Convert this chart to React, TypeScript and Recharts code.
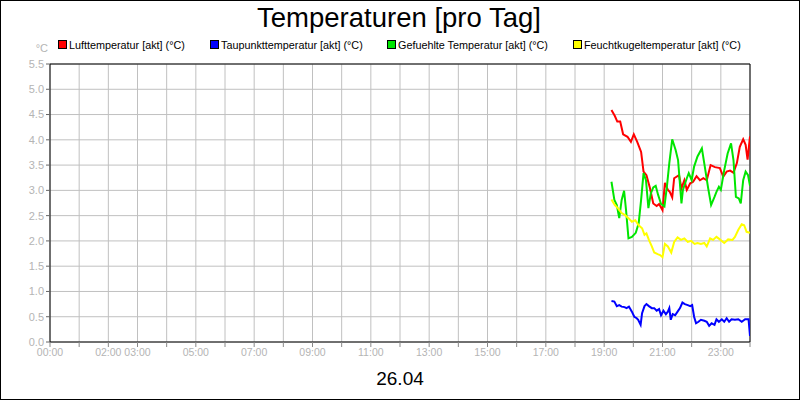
import { CartesianGrid, Line, LineChart, ReferenceLine, XAxis, YAxis } from "recharts";

// readings as [time, °C]
const lufttemperatur: [string, number][] = [
  ["19:15", 4.59], ["19:22", 4.47], ["19:27", 4.36], ["19:33", 4.36], ["19:39", 4.11],
  ["19:48", 4.06], ["19:55", 3.96], ["20:01", 4.11], ["20:08", 3.96], ["20:16", 3.76],
  ["20:21", 3.37], ["20:27", 3.3], ["20:34", 3.05], ["20:41", 2.74], ["20:48", 2.69],
  ["20:53", 2.73], ["21:00", 2.61], ["21:05", 3.15], ["21:11", 3.01], ["21:15", 2.97],
  ["21:20", 2.86], ["21:24", 3.24], ["21:34", 3.3], ["21:39", 3.04], ["21:45", 3.2],
  ["21:50", 3.01], ["21:57", 3.14], ["22:03", 3.17], ["22:10", 3.28], ["22:17", 3.2],
  ["22:24", 3.24], ["22:31", 3.2], ["22:39", 3.5], ["22:48", 3.46], ["22:58", 3.44],
  ["23:05", 3.27], ["23:12", 3.37], ["23:19", 3.39], ["23:26", 3.35], ["23:33", 3.54],
  ["23:39", 3.86], ["23:46", 4.01], ["23:51", 3.9], ["23:55", 3.61], ["24:00", 4.07],
];

const taupunkttemperatur: [string, number][] = [
  ["19:15", 0.81], ["19:21", 0.8], ["19:26", 0.71], ["19:31", 0.73], ["19:36", 0.7],
  ["19:42", 0.69], ["19:46", 0.67], ["19:51", 0.7], ["19:57", 0.6], ["20:02", 0.5],
  ["20:07", 0.47], ["20:10", 0.44], ["20:15", 0.34], ["20:18", 0.57], ["20:23", 0.71],
  ["20:27", 0.75], ["20:32", 0.71], ["20:38", 0.67], ["20:43", 0.67], ["20:48", 0.62],
  ["20:53", 0.65], ["20:57", 0.53], ["21:02", 0.62], ["21:07", 0.55], ["21:11", 0.6],
  ["21:14", 0.67], ["21:17", 0.44], ["21:21", 0.55], ["21:26", 0.53], ["21:31", 0.6],
  ["21:36", 0.67], ["21:41", 0.78], ["21:46", 0.75], ["21:52", 0.73], ["21:57", 0.71],
  ["22:01", 0.73], ["22:05", 0.5], ["22:09", 0.37], ["22:14", 0.4], ["22:19", 0.44],
  ["22:26", 0.42], ["22:31", 0.4], ["22:36", 0.32], ["22:41", 0.37], ["22:47", 0.34],
  ["22:51", 0.45], ["22:56", 0.4], ["23:02", 0.45], ["23:07", 0.4], ["23:12", 0.47],
  ["23:17", 0.4], ["23:22", 0.45], ["23:29", 0.44], ["23:36", 0.45], ["23:43", 0.4],
  ["23:50", 0.45], ["23:57", 0.45], ["24:00", 0.12],
];

const gefuehlteTemperatur: [string, number][] = [
  ["19:15", 3.17], ["19:21", 2.81], ["19:26", 2.71], ["19:31", 2.45], ["19:36", 2.81],
  ["19:41", 2.99], ["19:45", 2.61], ["19:50", 2.05], ["19:57", 2.08], ["20:05", 2.16],
  ["20:11", 2.35], ["20:16", 2.81], ["20:21", 3.34], ["20:26", 3.2], ["20:31", 2.65],
  ["20:36", 2.94], ["20:41", 3.06], ["20:46", 3.09], ["20:51", 2.91], ["20:57", 2.73],
  ["21:04", 2.68], ["21:09", 3.07], ["21:14", 3.54], ["21:20", 4.01], ["21:27", 3.8],
  ["21:32", 3.6], ["21:39", 2.74], ["21:42", 3.01], ["21:50", 3.24], ["21:54", 3.34],
  ["22:00", 3.2], ["22:05", 3.47], ["22:12", 3.67], ["22:21", 3.83], ["22:27", 3.47],
  ["22:34", 3.04], ["22:40", 2.71], ["22:47", 2.87], ["22:51", 2.97], ["22:56", 3.07],
  ["23:00", 3.01], ["23:07", 3.4], ["23:14", 3.73], ["23:21", 3.93], ["23:26", 3.6],
  ["23:31", 2.87], ["23:37", 2.84], ["23:41", 2.74], ["23:46", 3.2], ["23:51", 3.37],
  ["23:56", 3.3], ["24:00", 3.09],
];

const feuchtkugeltemperatur: [string, number][] = [
  ["19:15", 2.82], ["19:22", 2.71], ["19:29", 2.64], ["19:36", 2.55], ["19:43", 2.51],
  ["19:50", 2.45], ["19:57", 2.38], ["20:04", 2.41], ["20:11", 2.31], ["20:18", 2.25],
  ["20:23", 2.12], ["20:27", 2.15], ["20:32", 2.02], ["20:38", 1.89], ["20:43", 1.77],
  ["20:50", 1.74], ["20:55", 1.72], ["21:00", 1.68], ["21:05", 1.94], ["21:11", 1.89],
  ["21:18", 1.77], ["21:24", 1.98], ["21:31", 2.07], ["21:38", 2.02], ["21:45", 2.05],
  ["21:52", 1.98], ["21:59", 2.0], ["22:06", 1.94], ["22:12", 1.96], ["22:19", 1.94],
  ["22:26", 1.96], ["22:31", 1.89], ["22:38", 2.05], ["22:44", 2.02], ["22:51", 2.08],
  ["22:58", 2.03], ["23:07", 1.96], ["23:15", 2.03], ["23:24", 2.02], ["23:29", 2.08],
  ["23:36", 2.22], ["23:43", 2.33], ["23:48", 2.31], ["23:53", 2.18], ["24:00", 2.16],
];

const hourTicks = Array.from({ length: 25 }, (_, i) => i);
const labelledHours = [0, 2, 3, 5, 7, 9, 11, 13, 15, 17, 19, 21, 23];
const yTicks = [0, 0.5, 1, 1.5, 2, 2.5, 3, 3.5, 4, 4.5, 5, 5.5];

const series = [
  { name: "Lufttemperatur [akt] (°C)", color: "#ff0000", rows: lufttemperatur, legendX: 58 },
  { name: "Taupunkttemperatur [akt] (°C)", color: "#0000ff", rows: taupunkttemperatur, legendX: 210 },
  { name: "Gefuehlte Temperatur [akt] (°C)", color: "#00e600", rows: gefuehlteTemperatur, legendX: 387 },
  { name: "Feuchtkugeltemperatur [akt] (°C)", color: "#ffff00", rows: feuchtkugeltemperatur, legendX: 573 },
];

const FONT = "Arial, 'Liberation Sans', sans-serif";
const GREY = "#b4b4b4";

const toHour = (s: string) => {
  const [h, m] = s.split(":").map(Number);
  return h + m / 60;
};

const pad2 = (n: number) => String(n).padStart(2, "0");

function HourTick(props: any) {
  const { x, y, payload } = props;
  if (!labelledHours.includes(payload.value)) return <g />;
  return (
    <text x={x} y={y} dy="0.71em" textAnchor="middle" fill={GREY} fontSize={10.5} fontFamily={FONT}>
      {pad2(payload.value)}:00
    </text>
  );
}

export default function App() {
  return (
    <div
      style={{
        position: "absolute",
        left: 0,
        top: 0,
        width: 800,
        height: 400,
        boxSizing: "border-box",
        border: "1px solid #000",
        background: "#fff",
        fontFamily: FONT,
      }}
    >
      <div style={{ position: "absolute", left: -1, top: -1 }}>
        <LineChart width={800} height={400} margin={{ top: 64, right: 50, bottom: 0, left: 0 }}>
          <CartesianGrid stroke="#c0c0c0" />
          <XAxis
            type="number"
            dataKey="t"
            domain={[0, 24]}
            ticks={hourTicks}
            interval={0}
            height={58}
            tick={<HourTick />}
            tickSize={5}
            axisLine={{ stroke: "#000" }}
            tickLine={{ stroke: "#888" }}
            allowDataOverflow
          />
          <YAxis
            type="number"
            domain={[0, 5.5]}
            ticks={yTicks}
            width={50}
            tickSize={4}
            tickFormatter={(v: number) => v.toFixed(1)}
            tick={{ fill: GREY, fontSize: 11, fontFamily: FONT }}
            axisLine={{ stroke: "#000" }}
            tickLine={{ stroke: "#666" }}
          />
          <ReferenceLine y={5.5} stroke="#000" />
          <ReferenceLine x={24} stroke="#000" />
          {series.map((s) => (
            <Line
              key={s.name}
              data={s.rows.map(([t, v]) => ({ t: toHour(t), v }))}
              dataKey="v"
              type="linear"
              stroke={s.color}
              strokeWidth={2}
              dot={false}
              isAnimationActive={false}
            />
          ))}
        </LineChart>
      </div>
      <svg
        width={800}
        height={400}
        style={{ position: "absolute", left: -1, top: -1, pointerEvents: "none" }}
        fontFamily={FONT}
      >
        <text x={399} y={26.5} textAnchor="middle" fontSize={27.5} fill="#000">
          Temperaturen [pro Tag]
        </text>
        <text x={400} y={385} textAnchor="middle" fontSize={19} fill="#000">
          26.04
        </text>
        <text x={48} y={52} textAnchor="end" fontSize={11} fill={GREY}>
          °C
        </text>
        {series.map((s) => (
          <g key={s.name}>
            <rect x={s.legendX + 0.5} y={40.5} width={8} height={8} fill={s.color} stroke="#000" />
            <text x={s.legendX + 11} y={48.5} fontSize={10.8} fill="#000">
              {s.name}
            </text>
          </g>
        ))}
      </svg>
    </div>
  );
}
